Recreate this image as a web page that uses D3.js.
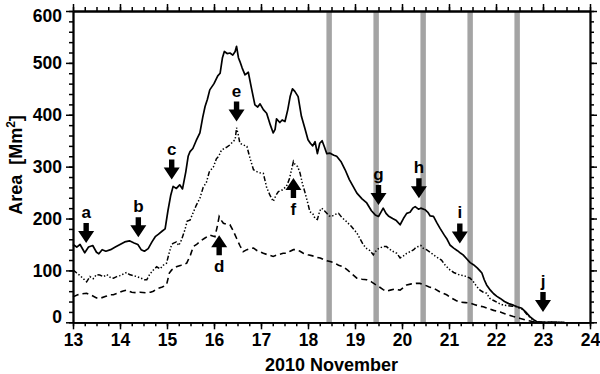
<!DOCTYPE html>
<html><head><meta charset="utf-8">
<script src="https://cdn.jsdelivr.net/npm/d3@7"></script>
<style>
html,body{margin:0;padding:0;background:#fff;}
svg{display:block;}
text{font-family:"Liberation Sans",Arial,Helvetica,sans-serif;font-weight:bold;}
</style></head>
<body>
<svg id="chart" width="600" height="374"></svg>
<script>
// ---- data ----
const totalDays = [13.00,13.08,13.15,13.25,13.33,13.42,13.50,13.55,13.62,13.70,13.80,13.90,14.00,14.10,14.20,14.30,14.38,14.45,14.52,14.60,14.68,14.75,14.82,14.90,14.96,15.02,15.08,15.13,15.20,15.27,15.33,15.40,15.45,15.49,15.55,15.62,15.70,15.76,15.81,15.86,15.91,16.00,16.08,16.13,16.18,16.22,16.28,16.34,16.40,16.45,16.48,16.52,16.55,16.60,16.66,16.73,16.80,16.87,16.93,16.98,17.05,17.12,17.20,17.26,17.30,17.33,17.40,17.45,17.51,17.57,17.62,17.67,17.72,17.79,17.86,17.93,18.00,18.05,18.10,18.15,18.20,18.25,18.30,18.35,18.40,18.47,18.55,18.61,18.70,18.79,18.88,18.96,19.04,19.15,19.25,19.35,19.43,19.50,19.55,19.60,19.66,19.71,19.80,19.88,19.96,20.03,20.10,20.17,20.23,20.28,20.35,20.40,20.49,20.55,20.60,20.67,20.74,20.81,20.90,20.96,21.02,21.10,21.18,21.25,21.30,21.38,21.45,21.52,21.60,21.65,21.70,21.75,21.80,21.88,21.95,22.02,22.09,22.18,22.27,22.37,22.45,22.55,22.63,22.72,22.80,22.87,22.95,23.10,23.30];
const totalArea = [150,145,150,134,145,148,135,132,140,137,140,145,150,155,157,153,150,140,137,142,155,165,170,176,180,215,245,262,258,265,257,290,320,329,335,350,365,395,416,430,448,460,475,480,510,522,518,519,515,522,532,510,503,490,477,482,450,419,415,421,410,403,380,365,372,392,385,390,387,410,435,450,445,435,397,375,352,345,340,348,325,345,350,338,325,326,322,320,310,294,275,262,249,238,230,215,207,204,212,220,210,205,200,196,188,200,210,212,220,223,218,220,217,212,205,204,192,181,168,160,149,143,138,133,130,122,115,111,105,100,95,82,72,62,55,50,46,40,36,33,30,27,20,11,5,1,0,0,0];

const midDays = [13.00,13.08,13.15,13.22,13.29,13.36,13.43,13.50,13.57,13.65,13.72,13.80,13.86,13.93,14.00,14.07,14.14,14.20,14.28,14.36,14.45,14.52,14.57,14.63,14.70,14.78,14.85,14.92,14.99,15.05,15.10,15.13,15.20,15.25,15.31,15.38,15.43,15.49,15.55,15.62,15.70,15.77,15.84,15.90,15.99,16.05,16.10,16.16,16.22,16.28,16.34,16.40,16.45,16.48,16.52,16.55,16.62,16.70,16.77,16.84,16.92,16.98,17.05,17.12,17.19,17.26,17.32,17.37,17.45,17.54,17.60,17.65,17.69,17.72,17.78,17.83,17.88,17.94,18.00,18.04,18.10,18.15,18.20,18.25,18.29,18.35,18.40,18.45,18.50,18.58,18.65,18.72,18.82,18.92,19.04,19.10,19.18,19.25,19.32,19.39,19.43,19.50,19.60,19.67,19.75,19.82,19.89,19.96,20.03,20.10,20.17,20.25,20.30,20.35,20.40,20.45,20.52,20.60,20.67,20.75,20.84,20.92,21.02,21.10,21.18,21.23,21.30,21.38,21.45,21.52,21.59,21.66,21.73,21.80,21.87,21.95,22.05,22.16,22.25,22.35,22.44,22.52,22.58,22.65,22.72,22.79,22.88,22.95,23.20,23.40];
const midArea = [101,95,90,84,78,88,84,92,91,88,92,86,85,88,90,93,96,92,90,88,85,82,82,92,100,107,103,110,114,135,150,152,155,148,159,178,195,197,210,225,239,260,270,290,300,315,320,332,335,338,342,348,352,375,360,345,342,339,315,294,290,288,287,260,245,233,245,252,255,262,275,294,310,305,300,288,268,249,228,213,210,200,198,215,220,215,210,205,204,208,210,202,194,185,172,162,149,142,138,130,136,142,146,146,140,136,133,124,128,133,136,140,145,146,148,143,140,135,130,125,120,110,101,96,93,91,90,88,85,78,69,62,58,56,46,42,37,33,32,31,30,26,24,16,10,4,1,0,0,0];

const lowDays = [13.00,13.10,13.20,13.29,13.40,13.50,13.60,13.70,13.80,13.86,13.95,14.05,14.14,14.25,14.35,14.43,14.55,14.65,14.71,14.80,14.90,14.99,15.05,15.10,15.20,15.30,15.42,15.50,15.56,15.63,15.70,15.80,15.91,16.02,16.07,16.11,16.16,16.20,16.27,16.34,16.40,16.48,16.55,16.62,16.70,16.77,16.84,16.92,16.98,17.05,17.15,17.26,17.35,17.47,17.54,17.62,17.69,17.76,17.83,17.90,18.00,18.10,18.20,18.26,18.35,18.47,18.55,18.65,18.75,18.85,18.95,19.04,19.15,19.25,19.35,19.43,19.52,19.60,19.67,19.75,19.85,19.96,20.03,20.10,20.20,20.30,20.38,20.48,20.58,20.67,20.80,20.95,21.05,21.15,21.23,21.35,21.45,21.55,21.65,21.73,21.85,21.95,22.09,22.20,22.30,22.37,22.50,22.65,22.75,22.85,23.10,23.50];
const lowArea = [49,53,55,56,52,47,47,50,53,53,56,60,62,58,57,58,57,58,60,65,68,72,95,101,107,110,114,130,146,150,156,162,168,165,185,204,196,191,189,188,178,162,148,136,140,142,143,138,136,133,130,127,130,133,133,137,140,140,137,133,130,128,125,124,120,117,115,110,107,100,92,85,83,82,78,73,68,63,60,62,64,62,67,72,74,75,75,72,68,66,59,53,47,42,39,38,37,34,31,30,26,23,20,16,13,11,8,4,2,0,0,0];

// grey bands (day centres)
const bandDays = [18.45,19.45,20.45,21.45,22.45];
const bandHalfWidth = 0.058;

// annotations
const arrowLabels = ["a","b","c","d","e","f","g","h","i","j"];
const arrowDays   = [13.28,14.39,15.10,16.11,16.48,17.69,19.50,20.36,21.23,23.00];
const arrowTips   = [153,164,275,168,387,278,226,239,152,20];
const arrowDirs   = ["down","down","down","up","down","up","down","down","down","down"];

const xMajor = d3.range(13, 24.001, 1);
const xMinor = d3.range(13, 24.001, 0.25);
const yMajor = d3.range(0, 600.1, 100);
const yMinor = d3.range(0, 600.1, 20);

// ---- drawing ----
const svg = d3.select("#chart");
const L = 73, R = 590, T = 11, B = 322.3;
const x = d3.scaleLinear().domain([13, 24]).range([L, R]);
const y = d3.scaleLinear().domain([0, 600]).range([B, T]);

// bands
svg.append("g").selectAll("rect").data(bandDays).join("rect")
  .attr("x", d => x(d - bandHalfWidth))
  .attr("width", d => x(d + bandHalfWidth) - x(d - bandHalfWidth))
  .attr("y", T).attr("height", B - T)
  .attr("fill", "#a4a4a4");

// lines
const line = (days, vals) => d3.line().x((d,i) => x(days[i])).y((d,i) => y(vals[i]))(vals);
svg.append("path").attr("d", line(lowDays, lowArea))
  .attr("fill","none").attr("stroke","#000").attr("stroke-width",1.6)
  .attr("stroke-dasharray","6,4");
svg.append("path").attr("d", line(midDays, midArea))
  .attr("fill","none").attr("stroke","#000").attr("stroke-width",1.5)
  .attr("stroke-dasharray","5,2,1.4,2,1.4,2,1.4,2");
svg.append("path").attr("d", line(totalDays, totalArea))
  .attr("fill","none").attr("stroke","#000").attr("stroke-width",1.7)
  .attr("stroke-linejoin","round");

// axes
function styleAxis(g){
  g.selectAll(".domain").attr("stroke","#000").attr("stroke-width",1.8);
  g.selectAll(".tick line").attr("stroke","#000").attr("stroke-width",1.5);
  g.selectAll("text").attr("fill","#000").style("font-size","17.5px").style("font-weight","bold");
}
const noLab = () => "";
// minor
svg.append("g").attr("transform",`translate(0,${B})`)
  .call(d3.axisBottom(x).tickValues(xMinor).tickSize(4).tickFormat(noLab).tickSizeOuter(0)).call(styleAxis);
svg.append("g").attr("transform",`translate(0,${T})`)
  .call(d3.axisTop(x).tickValues(xMinor).tickSize(4).tickFormat(noLab).tickSizeOuter(0)).call(styleAxis);
svg.append("g").attr("transform",`translate(${L},0)`)
  .call(d3.axisLeft(y).tickValues(yMinor).tickSize(4).tickFormat(noLab).tickSizeOuter(0)).call(styleAxis);
svg.append("g").attr("transform",`translate(${R},0)`)
  .call(d3.axisRight(y).tickValues(yMinor).tickSize(4).tickFormat(noLab).tickSizeOuter(0)).call(styleAxis);
// major
svg.append("g").attr("transform",`translate(0,${B})`)
  .call(d3.axisBottom(x).tickValues(xMajor).tickSize(7).tickPadding(4).tickFormat(d3.format("d")).tickSizeOuter(0)).call(styleAxis);
svg.append("g").attr("transform",`translate(0,${T})`)
  .call(d3.axisTop(x).tickValues(xMajor).tickSize(7).tickFormat(noLab).tickSizeOuter(0)).call(styleAxis);
const yl = svg.append("g").attr("transform",`translate(${L},0)`)
  .call(d3.axisLeft(y).tickValues(yMajor).tickSize(7).tickPadding(4).tickFormat(d3.format("d")).tickSizeOuter(0)).call(styleAxis);
svg.append("g").attr("transform",`translate(${R},0)`)
  .call(d3.axisRight(y).tickValues(yMajor).tickSize(7).tickFormat(noLab).tickSizeOuter(0)).call(styleAxis);
// shift extreme y labels inward as in the original
yl.selectAll(".tick text").attr("dy", d => d === 0 ? "0.02em" : d === 600 ? "0.62em" : "0.34em");

// axis titles
svg.append("text").attr("x", (L+R)/2).attr("y", 371)
  .attr("text-anchor","middle").style("font-size","18px").text("2010 November");
const yt = svg.append("text").attr("transform","translate(22,165) rotate(-90)")
  .attr("text-anchor","middle").style("font-size","18px");
yt.append("tspan").text("Area\u00a0\u00a0[Mm");
yt.append("tspan").attr("dy","-7").style("font-size","12px").text("2");
yt.append("tspan").attr("dy","7").text("]");

// arrows
const ag = svg.append("g");
arrowLabels.forEach((lab, i) => {
  const cx = x(arrowDays[i]), ty = y(arrowTips[i]);
  const s = arrowDirs[i] === "down" ? -1 : 1; // direction from tip towards tail
  const headH = 12, headW = 8, shaftW = 2.7, len = 20;
  const p = d3.path();
  p.moveTo(cx, ty);
  p.lineTo(cx + headW, ty + s*headH);
  p.lineTo(cx + shaftW, ty + s*headH);
  p.lineTo(cx + shaftW, ty + s*len);
  p.lineTo(cx - shaftW, ty + s*len);
  p.lineTo(cx - shaftW, ty + s*headH);
  p.lineTo(cx - headW, ty + s*headH);
  p.closePath();
  ag.append("path").attr("d", p.toString()).attr("fill","#000");
  const ly = s < 0 ? ty - len - 5 : ty + len + 17;
  ag.append("text").attr("x", cx).attr("y", ly).attr("text-anchor","middle")
    .style("font-size","17px").text(lab);
});
</script>
</body></html>
